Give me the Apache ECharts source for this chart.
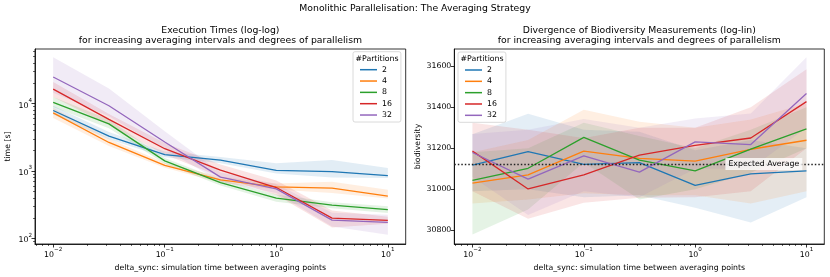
<!DOCTYPE html>
<html>
<head>
<meta charset="utf-8">
<script src="https://cdn.jsdelivr.net/npm/echarts@6/dist/echarts.min.js"></script>
<style>html,body{margin:0;padding:0;background:#fff}#c{width:830px;height:277px}</style>
</head>
<body>
<div id="c"></div>
<script>
// ---------- data ----------
const deltaSync = [0.01, 0.0316, 0.1, 0.316, 1, 3.16, 10];
const partitions = ['2', '4', '8', '16', '32'];

// execution time [s] (mean, lower, upper)
const time2  = [7900, 3300, 1750, 1445, 1020, 977, 853];
const time4  = [7280, 2650, 1210, 740, 581, 556, 425];
const time8  = [10450, 5000, 1415, 674, 397, 311, 268];
const time16 = [16400, 5840, 2140, 1030, 569, 200, 185];
const time32 = [24800, 9300, 2690, 810, 543, 187, 173];

const time2Lo  = [6900, 2950, 1600, 1300, 920, 800, 790];
const time2Hi  = [9300, 3800, 1950, 1620, 1300, 1450, 1110];
const time4Lo  = [6100, 2350, 1120, 670, 530, 470, 390];
const time4Hi  = [8700, 3000, 1320, 820, 650, 690, 525];
const time8Lo  = [8900, 4300, 1280, 610, 350, 280, 238];
const time8Hi  = [12500, 5800, 1560, 745, 450, 345, 300];
const time16Lo = [12500, 4800, 1750, 820, 440, 145, 165];
const time16Hi = [21000, 7000, 2600, 1250, 720, 260, 210];
const time32Lo = [14500, 6500, 2100, 690, 470, 150, 113];
const time32Hi = [48700, 16700, 3900, 950, 640, 240, 225];

// biodiversity (mean, lower, upper)
const bio2  = [31118, 31183, 31121, 31130, 31019, 31075, 31089];
const bio4  = [31030, 31070, 31186, 31150, 31137, 31195, 31239];
const bio8  = [31043, 31102, 31253, 31142, 31089, 31196, 31295];
const bio16 = [31186, 31001, 31070, 31166, 31214, 31250, 31428];
const bio32 = [31179, 31049, 31163, 31083, 31231, 31218, 31468];

const bio2Lo  = [30990, 31000, 30960, 30970, 30909, 30837, 30960];
const bio2Hi  = [31268, 31369, 31290, 31280, 31190, 31240, 31200];
const bio4Lo  = [30930, 30950, 30980, 30970, 30970, 30930, 30990];
const bio4Hi  = [31180, 31240, 31388, 31330, 31300, 31340, 31420];
const bio8Lo  = [30778, 30900, 31130, 30950, 31000, 31080, 31200];
const bio8Hi  = [31180, 31200, 31324, 31260, 31200, 31290, 31400];
const bio16Lo = [30990, 30856, 30933, 30958, 30960, 30990, 31200];
const bio16Hi = [31324, 31290, 31250, 31300, 31300, 31400, 31586];
const bio32Lo = [31060, 30874, 30990, 30960, 31100, 31100, 31300];
const bio32Hi = [31270, 31290, 31343, 31300, 31345, 31370, 31645];

const expectedAverage = 31123;

// ticks
const logMajorX = [0.01, 0.1, 1, 10];
const logMinorX = [0.007, 0.008, 0.009, 0.02, 0.03, 0.04, 0.05, 0.06, 0.07, 0.08, 0.09,
                   0.2, 0.3, 0.4, 0.5, 0.6, 0.7, 0.8, 0.9, 2, 3, 4, 5, 6, 7, 8, 9];
const logMajorY = [100, 1000, 10000];
const logMinorY = [90, 200, 300, 400, 500, 600, 700, 800, 900, 2000, 3000, 4000, 5000,
                   6000, 7000, 8000, 9000, 20000, 30000, 40000, 50000, 60000];
const bioTicks = [30800, 31000, 31200, 31400, 31600];

// ---------- chart ----------
const colors = ['#1f77b4', '#ff7f0e', '#2ca02c', '#d62728', '#9467bd'];
const FONT = 'DejaVu Sans';
const FS = 7.8, FT = 9.3;
const timeMeans = [time2, time4, time8, time16, time32];
const timeLo = [time2Lo, time4Lo, time8Lo, time16Lo, time32Lo];
const timeHi = [time2Hi, time4Hi, time8Hi, time16Hi, time32Hi];
const bioMeans = [bio2, bio4, bio8, bio16, bio32];
const bioLo = [bio2Lo, bio4Lo, bio8Lo, bio16Lo, bio32Lo];
const bioHi = [bio2Hi, bio4Hi, bio8Hi, bio16Hi, bio32Hi];

const X_MIN = Math.pow(10, -2.163), X_MAX = Math.pow(10, 1.16);
const TY_MIN = Math.pow(10, 1.917), TY_MAX = Math.pow(10, 4.81);

function sup(v) {
  const e = Math.round(Math.log10(v));
  return '{b|10}{s|' + (e < 0 ? '\u2212' + (-e) : e) + '}';
}
const supRich = {
  b: {fontSize: FS, fontFamily: FONT, color: '#000', verticalAlign: 'bottom', lineHeight: 12},
  s: {fontSize: 5.6, fontFamily: FONT, color: '#000', verticalAlign: 'top'}
};

function majorLogX(grid) {
  return {
    type: 'log', gridIndex: grid, min: X_MIN, max: X_MAX, position: 'bottom',
    name: 'delta_sync: simulation time between averaging points',
    nameLocation: 'middle', nameGap: 20,
    nameTextStyle: {fontFamily: FONT, fontSize: FS, color: '#000'},
    axisLine: {show: true, onZero: false, lineStyle: {color: '#000', width: 0.8}},
    axisTick: {show: true, length: 3.5, customValues: logMajorX, lineStyle: {color: '#000', width: 0.8}},
    axisLabel: {show: true, margin: 3, customValues: logMajorX, formatter: sup, rich: supRich},
    splitLine: {show: false}
  };
}
function minorLogX(grid) {
  return {
    type: 'log', gridIndex: grid, min: X_MIN, max: X_MAX, position: 'bottom',
    axisLine: {show: false},
    axisTick: {show: true, length: 2, customValues: logMinorX, lineStyle: {color: '#000', width: 0.6}},
    axisLabel: {show: false}, splitLine: {show: false}
  };
}

const series = [];
partitions.forEach((p, i) => {
  series.push({
    type: 'custom', xAxisIndex: 0, yAxisIndex: 0, silent: true, z: 1,
    data: deltaSync.map((x, k) => [x, timeLo[i][k], timeHi[i][k]]),
    renderItem: (params, api) => {
      if (params.dataIndex !== 0) return null;
      const up = deltaSync.map((x, k) => api.coord([x, timeHi[i][k]]));
      const lo = deltaSync.map((x, k) => api.coord([x, timeLo[i][k]])).reverse();
      return {type: 'polygon', shape: {points: up.concat(lo)}, style: {fill: colors[i], opacity: 0.13}};
    }
  });
  series.push({
    type: 'custom', xAxisIndex: 2, yAxisIndex: 2, silent: true, z: 1,
    data: deltaSync.map((x, k) => [x, bioLo[i][k], bioHi[i][k]]),
    renderItem: (params, api) => {
      if (params.dataIndex !== 0) return null;
      const up = deltaSync.map((x, k) => api.coord([x, bioHi[i][k]]));
      const lo = deltaSync.map((x, k) => api.coord([x, bioLo[i][k]])).reverse();
      return {type: 'polygon', shape: {points: up.concat(lo)}, style: {fill: colors[i], opacity: 0.12}};
    }
  });
});
partitions.forEach((p, i) => {
  series.push({
    name: p, type: 'line', xAxisIndex: 0, yAxisIndex: 0, z: 3,
    data: deltaSync.map((x, k) => [x, timeMeans[i][k]]),
    symbol: 'none', color: colors[i], lineStyle: {width: 1.3, color: colors[i]}
  });
  const s = {
    name: p, type: 'line', xAxisIndex: 2, yAxisIndex: 2, z: 3,
    data: deltaSync.map((x, k) => [x, bioMeans[i][k]]),
    symbol: 'none', color: colors[i], lineStyle: {width: 1.3, color: colors[i]}
  };
  if (i === 0) {
    s.markLine = {
      silent: true, symbol: 'none', z: 4,
      data: [{yAxis: expectedAverage}],
      lineStyle: {type: [1.5, 2], color: '#222', width: 1.4},
      label: {
        show: true, position: 'insideEnd', formatter: 'Expected Average',
        fontFamily: FONT, fontSize: FS, color: '#000',
        backgroundColor: 'rgba(255,255,255,0.8)', padding: [2, 3, 2, 3], distance: 22
      }
    };
  }
  series.push(s);
});

function legend(left, top) {
  return {
    data: partitions, orient: 'vertical', left: left, top: top,
    icon: 'rect', itemWidth: 17, itemHeight: 1.5, itemGap: 1.33,
    textStyle: {fontFamily: FONT, fontSize: FS, color: '#000', lineHeight: 10},
    backgroundColor: 'rgba(255,255,255,0.8)', borderColor: '#d0d0d0', borderWidth: 0.8,
    borderRadius: 2, padding: [13, 9, 2, 7], selectedMode: false
  };
}

const option = {
  animation: false,
  textStyle: {fontFamily: FONT},
  title: [
    {text: 'Monolithic Parallelisation: The Averaging Strategy', left: 415, textAlign: 'center', top: 4.5, padding: 0,
     textStyle: {fontFamily: FONT, fontSize: FT, fontWeight: 'normal', color: '#000'}},
    {text: 'Execution Times (log-log)\nfor increasing averaging intervals and degrees of parallelism',
     left: 220.4, textAlign: 'center', top: 25, padding: 0,
     textStyle: {fontFamily: FONT, fontSize: FT, fontWeight: 'normal', color: '#000', lineHeight: 10.4}},
    {text: 'Divergence of Biodiversity Measurements (log-lin)\nfor increasing averaging intervals and degrees of parallelism',
     left: 639.3, textAlign: 'center', top: 25, padding: 0,
     textStyle: {fontFamily: FONT, fontSize: FT, fontWeight: 'normal', color: '#000', lineHeight: 10.4}}
  ],
  color: colors,
  legend: [legend(353, 51.7), legend(458, 52)],
  graphic: [
    {type: 'text', left: 355.5, top: 54.5, z: 100, style: {text: '#Partitions', fontFamily: FONT, fontSize: FS, fill: '#000'}},
    {type: 'text', left: 460.5, top: 54.5, z: 100, style: {text: '#Partitions', fontFamily: FONT, fontSize: FS, fill: '#000'}}
  ],
  grid: [
    {left: 35, right: 424.3, top: 49, bottom: 30.3, show: true, borderColor: '#000', borderWidth: 0.8},
    {left: 454.3, right: 5.7, top: 49, bottom: 30.3, show: true, borderColor: '#000', borderWidth: 0.8}
  ],
  xAxis: [majorLogX(0), minorLogX(0), majorLogX(1), minorLogX(1)],
  yAxis: [
    {type: 'log', gridIndex: 0, min: TY_MIN, max: TY_MAX, position: 'left',
     name: 'time [s]', nameLocation: 'middle', nameGap: 23,
     nameTextStyle: {fontFamily: FONT, fontSize: FS, color: '#000'},
     axisLine: {show: true, onZero: false, lineStyle: {color: '#000', width: 0.8}},
     axisTick: {show: true, length: 3.5, customValues: logMajorY, lineStyle: {color: '#000', width: 0.8}},
     axisLabel: {show: true, margin: 3, customValues: logMajorY, formatter: sup, rich: supRich},
     splitLine: {show: false}},
    {type: 'log', gridIndex: 0, min: TY_MIN, max: TY_MAX, position: 'left',
     axisLine: {show: false},
     axisTick: {show: true, length: 2, customValues: logMinorY, lineStyle: {color: '#000', width: 0.6}},
     axisLabel: {show: false}, splitLine: {show: false}},
    {type: 'value', gridIndex: 1, min: 30732, max: 31685, position: 'left',
     name: 'biodiversity', nameLocation: 'middle', nameGap: 32,
     nameTextStyle: {fontFamily: FONT, fontSize: FS, color: '#000'},
     axisLine: {show: true, onZero: false, lineStyle: {color: '#000', width: 0.8}},
     axisTick: {show: true, length: 3.5, customValues: bioTicks, lineStyle: {color: '#000', width: 0.8}},
     axisLabel: {show: true, margin: 3, customValues: bioTicks, fontFamily: FONT, fontSize: FS, color: '#000',
                 formatter: v => String(v)},
     splitLine: {show: false}}
  ],
  series: series
};

const chart = echarts.init(document.getElementById('c'), null, {renderer: 'canvas'});
chart.setOption(option);
</script>
</body>
</html>
